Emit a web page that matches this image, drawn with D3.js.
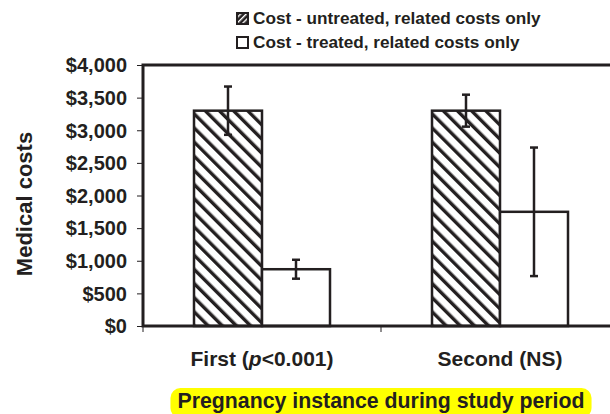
<!DOCTYPE html>
<html>
<head>
<meta charset="utf-8">
<script src="https://cdn.jsdelivr.net/npm/d3@7"></script>
<style>
  body { margin: 0; background: #fff; }
  text { font-family: Arial, Helvetica, sans-serif; font-weight: bold; fill: #231f20; }
</style>
</head>
<body>
<div id="viz"></div>
<script>
// values
var groups = ['First', 'Second'];
var series = ['Cost - untreated, related costs only', 'Cost - treated, related costs only'];
var untreated = [3300, 3300];
var untreatedErr = [370, 245];
var treated = [870, 1750];
var treatedErr = [145, 985];
var yTicks = [0, 500, 1000, 1500, 2000, 2500, 3000, 3500, 4000];

var width = 610, height = 414,
    margin = { top: 65, left: 143, bottom: 88 },
    plotW = 476,
    plotH = height - margin.top - margin.bottom,
    ink = '#231f20',
    font = 'Arial, Helvetica, sans-serif';

var svg = d3.select('#viz').append('svg')
    .attr('width', width)
    .attr('height', height);

var defs = svg.append('defs');
var hatch = defs.append('pattern')
    .attr('id', 'hatch')
    .attr('patternUnits', 'userSpaceOnUse')
    .attr('width', 10).attr('height', 10)
    .attr('patternTransform', 'rotate(-45)');
hatch.append('rect').attr('width', 10).attr('height', 10).attr('fill', '#fff');
hatch.append('rect').attr('width', 3.4).attr('height', 10).attr('fill', ink);

var swatch = defs.append('pattern')
    .attr('id', 'swatch')
    .attr('patternUnits', 'userSpaceOnUse')
    .attr('width', 4).attr('height', 4)
    .attr('patternTransform', 'rotate(45)');
swatch.append('rect').attr('width', 4).attr('height', 4).attr('fill', ink);
swatch.append('rect').attr('width', 1.4).attr('height', 4).attr('fill', '#fff');

var y = d3.scaleLinear().domain([0, 4000]).range([plotH, 0]);
var x0 = d3.scaleBand().domain(groups).range([0, plotW]);
var x1 = d3.scaleBand().domain(series).range([0, x0.bandwidth()]).paddingOuter(0.75);

var g = svg.append('g')
    .attr('transform', 'translate(' + margin.left + ',' + margin.top + ')');

// y axis
var yAxis = d3.axisLeft(y)
    .tickValues(yTicks)
    .tickSize(6)
    .tickPadding(10)
    .tickFormat(function(d) { return '$' + d3.format(',')(d); });
var yG = g.append('g').call(yAxis)
    .attr('font-family', font)
    .attr('font-size', 20);
yG.select('.domain').remove();
yG.selectAll('line').attr('stroke', ink).attr('stroke-width', 1);
yG.selectAll('text').attr('fill', ink).attr('dy', '0.34em');

// x ticks at band edges
var xEdges = [0, x0.step(), plotW];
g.selectAll('.xtick').data(xEdges).enter().append('line')
    .attr('x1', function(d) { return d; }).attr('x2', function(d) { return d; })
    .attr('y1', plotH).attr('y2', plotH + 6)
    .attr('stroke', ink).attr('stroke-width', 1);

var data = groups.map(function(gr, i) {
  return [
    { group: gr, s: series[0], v: untreated[i], e: untreatedErr[i], fill: 'url(#hatch)' },
    { group: gr, s: series[1], v: treated[i], e: treatedErr[i], fill: '#fff' }
  ];
});

var bars = g.selectAll('.grp').data(data).enter().append('g')
    .attr('transform', function(d) { return 'translate(' + x0(d[0].group) + ',0)'; });

bars.selectAll('rect').data(function(d) { return d; }).enter().append('rect')
    .attr('x', function(d) { return x1(d.s); })
    .attr('y', function(d) { return y(d.v); })
    .attr('width', x1.bandwidth())
    .attr('height', function(d) { return plotH - y(d.v); })
    .attr('fill', function(d) { return d.fill; })
    .attr('stroke', ink)
    .attr('stroke-width', 2.5);

// error bars
var err = bars.selectAll('.err').data(function(d) { return d; }).enter().append('g');
err.append('line')
    .attr('x1', function(d) { return x1(d.s) + x1.bandwidth() / 2; })
    .attr('x2', function(d) { return x1(d.s) + x1.bandwidth() / 2; })
    .attr('y1', function(d) { return y(d.v + d.e); })
    .attr('y2', function(d) { return y(d.v - d.e); })
    .attr('stroke', ink).attr('stroke-width', 2.5);
[1, -1].forEach(function(sign) {
  err.append('line')
    .attr('x1', function(d) { return x1(d.s) + x1.bandwidth() / 2 - 4; })
    .attr('x2', function(d) { return x1(d.s) + x1.bandwidth() / 2 + 4; })
    .attr('y1', function(d) { return y(d.v + sign * d.e); })
    .attr('y2', function(d) { return y(d.v + sign * d.e); })
    .attr('stroke', ink).attr('stroke-width', 2.5);
});

// plot frame
g.append('rect')
    .attr('x', 0).attr('y', 0)
    .attr('width', plotW).attr('height', plotH)
    .attr('fill', 'none')
    .attr('stroke', ink)
    .attr('stroke-width', 3);

// x labels
var xl = g.selectAll('.xl').data(groups).enter().append('text')
    .attr('x', function(d) { return x0(d) + x0.bandwidth() / 2; })
    .attr('y', plotH + 40)
    .attr('text-anchor', 'middle')
    .style('font-size', '21px');
xl.each(function(d) {
  var t = d3.select(this);
  if (d === 'First') {
    t.append('tspan').text('First (');
    t.append('tspan').style('font-style', 'italic').text('p');
    t.append('tspan').text('<0.001)');
  } else {
    t.append('tspan').text('Second (NS)');
  }
});

// highlighted x title
var hl = svg.append('rect').attr('fill', '#ffff00').attr('rx', 10);
var title = svg.append('text')
    .attr('x', 381).attr('y', 408)
    .attr('text-anchor', 'middle')
    .style('font-size', '21.3px')
    .text('Pregnancy instance during study period');
var bb = title.node().getBBox();
hl.attr('x', bb.x - 7).attr('y', bb.y - 1)
  .attr('width', bb.width + 14).attr('height', bb.height + 6);

// y title
svg.append('text')
    .attr('transform', 'translate(32,204) rotate(-90)')
    .attr('text-anchor', 'middle')
    .style('font-size', '22px')
    .text('Medical costs');

// legend
var leg = svg.selectAll('.leg').data(series).enter().append('g')
    .attr('transform', function(d, i) { return 'translate(236,' + (12 + i * 24) + ')'; });
leg.append('rect')
    .attr('x', 1).attr('y', 1)
    .attr('width', 11).attr('height', 11)
    .attr('fill', function(d, i) { return i === 0 ? 'url(#swatch)' : '#fff'; })
    .attr('stroke', ink)
    .attr('stroke-width', 2);
leg.append('text')
    .attr('x', 17).attr('y', 12)
    .style('font-size', '17.2px')
    .text(function(d) { return d; });
</script>
</body>
</html>
